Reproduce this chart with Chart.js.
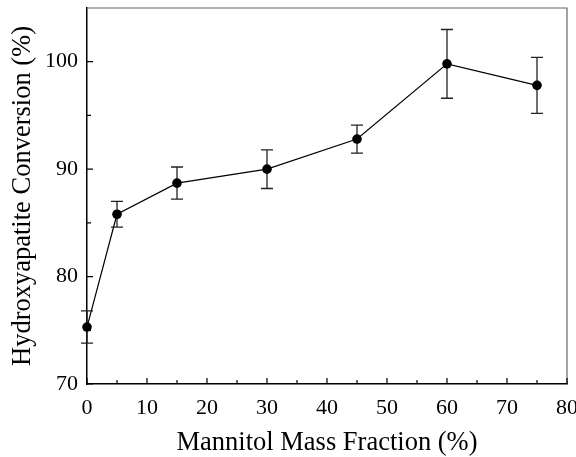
<!DOCTYPE html>
<html>
<head>
<meta charset="utf-8">
<script src="https://cdn.jsdelivr.net/npm/chart.js@4.4.1/dist/chart.umd.min.js"></script>
<style>
html,body{margin:0;padding:0;background:#fff;}
#wrap{width:576px;height:457px;}
</style>
</head>
<body>
<div id="wrap"><canvas id="c" width="576" height="457"></canvas></div>
<script>
const xVals = [0, 5, 15, 30, 45, 60, 75];
const yVals = [75.3, 85.8, 88.7, 90.0, 92.8, 99.8, 97.8];
const errVals = [1.5, 1.2, 1.5, 1.8, 1.3, 3.2, 2.6];
const xMajorTicks = [0, 10, 20, 30, 40, 50, 60, 70, 80];
const xMinorTicks = [5, 15, 25, 35, 45, 55, 65, 75];
const yMajorTicks = [70, 80, 90, 100];
const yMinorTicks = [75, 85, 95];
const xTitle = 'Mannitol Mass Fraction (%)';
const yTitle = 'Hydroxyapatite Conversion (%)';

const FONT = "'Liberation Serif', 'Times New Roman', serif";

const errorBars = {
  id: 'errorBars',
  beforeDatasetsDraw(chart) {
    const ctx = chart.ctx, xs = chart.scales.x, ys = chart.scales.y;
    ctx.save();
    ctx.strokeStyle = '#222';
    ctx.lineWidth = 1.3;
    xVals.forEach((xv, i) => {
      const px = xs.getPixelForValue(xv);
      const top = ys.getPixelForValue(yVals[i] + errVals[i]);
      const bot = ys.getPixelForValue(yVals[i] - errVals[i]);
      ctx.beginPath();
      ctx.moveTo(px, top); ctx.lineTo(px, bot);
      ctx.moveTo(px - 6, top); ctx.lineTo(px + 6, top);
      ctx.moveTo(px - 6, bot); ctx.lineTo(px + 6, bot);
      ctx.stroke();
    });
    ctx.restore();
  }
};

const frameTicks = {
  id: 'frameTicks',
  afterDraw(chart) {
    const ctx = chart.ctx, a = chart.chartArea, xs = chart.scales.x, ys = chart.scales.y;
    ctx.save();
    ctx.strokeStyle = '#666';
    ctx.lineWidth = 1.2;
    ctx.beginPath();
    ctx.moveTo(a.left, a.top); ctx.lineTo(a.right, a.top); ctx.lineTo(a.right, a.bottom);
    ctx.stroke();
    ctx.strokeStyle = '#000';
    ctx.lineWidth = 1.2;
    ctx.beginPath();
    xMajorTicks.forEach(v => { const p = xs.getPixelForValue(v); ctx.moveTo(p, a.bottom); ctx.lineTo(p, a.bottom - 6); });
    xMinorTicks.forEach(v => { const p = xs.getPixelForValue(v); ctx.moveTo(p, a.bottom); ctx.lineTo(p, a.bottom - 4); });
    yMajorTicks.forEach(v => { const p = ys.getPixelForValue(v); ctx.moveTo(a.left, p); ctx.lineTo(a.left + 6, p); });
    yMinorTicks.forEach(v => { const p = ys.getPixelForValue(v); ctx.moveTo(a.left, p); ctx.lineTo(a.left + 4, p); });
    ctx.stroke();
    ctx.restore();
  }
};

function zeroPad(s) { s.paddingLeft = 0; s.paddingRight = 0; s.paddingTop = 0; s.paddingBottom = 0; }

new Chart(document.getElementById('c'), {
  type: 'scatter',
  data: {
    datasets: [{
      data: xVals.map((x, i) => ({ x: x, y: yVals[i] })),
      showLine: true,
      borderColor: '#000',
      borderWidth: 1.2,
      backgroundColor: '#000',
      pointRadius: 4.8,
      pointHoverRadius: 4.8,
      pointBorderWidth: 0,
      clip: false
    }]
  },
  options: {
    responsive: false,
    animation: false,
    devicePixelRatio: 1,
    layout: { padding: { top: 8, right: 9, left: 0, bottom: 0 } },
    plugins: { legend: { display: false }, tooltip: { enabled: false } },
    scales: {
      x: {
        type: 'linear', min: 0, max: 80,
        afterBuildTicks: s => { s.ticks = xMajorTicks.map(v => ({ value: v })); },
        afterFit: s => { s.height = 73; zeroPad(s); },
        grid: { display: false, drawTicks: false },
        border: { display: true, color: '#000', width: 1.5 },
        ticks: { color: '#000', padding: 11, font: { family: FONT, size: 22 }, maxRotation: 0 },
        title: { display: true, text: xTitle, color: '#000', font: { family: FONT, size: 26.5, lineHeight: 1 }, padding: { top: 0, bottom: 1 } }
      },
      y: {
        type: 'linear', min: 70, max: 105,
        afterBuildTicks: s => { s.ticks = yMajorTicks.map(v => ({ value: v })); },
        afterFit: s => { s.width = 87; zeroPad(s); },
        grid: { display: false, drawTicks: false },
        border: { display: true, color: '#000', width: 1.5 },
        ticks: { color: '#000', padding: 9, font: { family: FONT, size: 22 } },
        title: { display: true, text: yTitle, color: '#000', font: { family: FONT, size: 26.5 }, padding: { top: 7, bottom: 0 } }
      }
    }
  },
  plugins: [errorBars, frameTicks]
});
</script>
</body>
</html>
